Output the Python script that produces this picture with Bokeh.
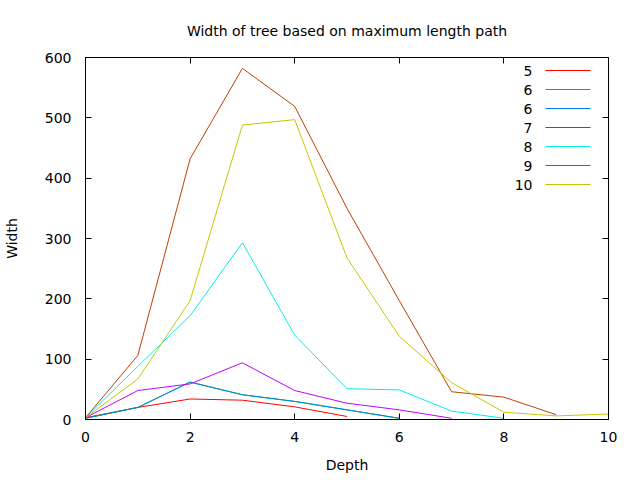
from bokeh.plotting import figure
from bokeh.models import Range1d, FixedTicker, LinearAxis, Label, BoxAnnotation, CustomJSTickFormatter
from bokeh.embed import file_html
from bokeh.resources import INLINE

title = "Width of tree based on maximum length path"
x_label = "Depth"
y_label = "Width"

series_names = ["5", "6", "6", "7", "8", "9", "10"]
series_colors = ["#ff0000", "#00c000", "#0080ff", "#c000ff", "#00eeee", "#c04000", "#c8c800"]

depth_5 = [0, 1, 2, 3, 4, 5]
width_5 = [3, 20, 34, 32, 21, 5]
depth_6a = [0, 1, 2, 3, 4, 5, 6]
width_6a = [2, 20, 62, 41, 30, 16, 2]
depth_6b = [0, 1, 2, 3, 4, 5, 6]
width_6b = [2, 20, 62, 41, 30, 16, 2]
depth_7 = [0, 1, 2, 3, 4, 5, 6, 7]
width_7 = [3, 48, 59, 94, 48, 27, 16, 2]
depth_8 = [0, 1, 2, 3, 4, 5, 6, 7, 8]
width_8 = [3, 88, 172, 293, 140, 51, 49, 14, 2]
depth_9 = [0, 1, 2, 3, 4, 5, 6, 7, 8, 9]
width_9 = [3, 106, 432, 582, 519, 350, 197, 46, 37, 8]
depth_10 = [0, 1, 2, 3, 4, 5, 6, 7, 8, 9, 10]
width_10 = [3, 67, 197, 488, 497, 268, 138, 61, 12, 6, 9]

x_ticks = [0, 2, 4, 6, 8, 10]
y_ticks = [0, 100, 200, 300, 400, 500, 600]

all_depths = [depth_5, depth_6a, depth_6b, depth_7, depth_8, depth_9, depth_10]
all_widths = [width_5, width_6a, width_6b, width_7, width_8, width_9, width_10]

FONT = "DejaVu Sans"
FS = "14px"

p = figure(frame_width=523, frame_height=362, output_backend="svg", toolbar_location=None,
           x_range=Range1d(0, 10), y_range=Range1d(0, 600),
           min_border_left=85, min_border_right=32, min_border_top=57, min_border_bottom=61)
p.background_fill_color = "white"
p.border_fill_color = "white"
p.outline_line_color = "black"
p.outline_line_width = 1
p.grid.visible = False

p.title.text = title
p.title.align = "center"
p.title.text_font = FONT
p.title.text_font_size = FS
p.title.text_font_style = "normal"
p.title.text_color = "black"
p.title.standoff = 38

for ax in p.xaxis:
    ax.ticker = FixedTicker(ticks=x_ticks)
for ax in p.yaxis:
    ax.ticker = FixedTicker(ticks=y_ticks)

for ax in p.xaxis + p.yaxis:
    ax.major_tick_in = 6
    ax.major_tick_out = 0
    ax.minor_tick_in = 0
    ax.minor_tick_out = 0
    ax.axis_line_color = "black"
    ax.major_label_text_font = FONT
    ax.major_label_text_font_size = FS
    ax.major_label_text_color = "black"
    ax.axis_label_text_font = FONT
    ax.axis_label_text_font_size = FS
    ax.axis_label_text_font_style = "normal"
    ax.axis_label_text_color = "black"

p.xaxis.axis_label = x_label
p.yaxis.axis_label = y_label
p.xaxis.major_label_standoff = 12
p.xaxis.axis_label_standoff = 12
p.yaxis.major_label_standoff = 14
p.yaxis.axis_label_standoff = 22

blank = CustomJSTickFormatter(code="return ''")
top_axis = LinearAxis(ticker=FixedTicker(ticks=x_ticks), major_tick_in=6, major_tick_out=0,
                      minor_tick_in=0, minor_tick_out=0, formatter=blank,
                      major_label_standoff=0, axis_line_color="black")
right_axis = LinearAxis(ticker=FixedTicker(ticks=y_ticks), major_tick_in=6, major_tick_out=0,
                        minor_tick_in=0, minor_tick_out=0, formatter=blank,
                        major_label_standoff=0, axis_line_color="black")
p.add_layout(top_axis, "above")
p.add_layout(right_axis, "right")

for xs, ys, c in zip(all_depths, all_widths, series_colors):
    p.line(xs, ys, line_color=c, line_width=1)

# key (label then sample, gnuplot style)
for i, (name, c) in enumerate(zip(series_names, series_colors)):
    yy = 349 - i * 19
    p.add_layout(Label(x=447, y=yy, x_units="screen", y_units="screen", text=name,
                       text_font=FONT, text_font_size=FS, text_align="right",
                       text_baseline="middle", text_color="black"))
    p.add_layout(BoxAnnotation(left=460, right=505, bottom=yy - 0.5, top=yy + 0.5,
                               left_units="screen", right_units="screen",
                               bottom_units="screen", top_units="screen",
                               fill_color=c, fill_alpha=1, line_alpha=0))

open("out.html", "w").write(file_html(p, INLINE))
